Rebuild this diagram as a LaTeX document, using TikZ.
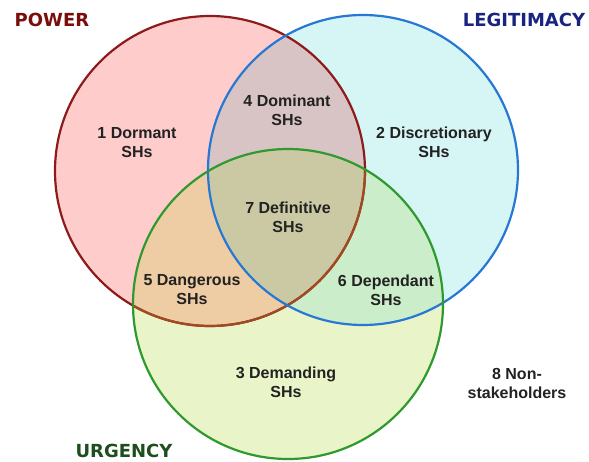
\documentclass[tikz,border=0pt]{standalone}
\usepackage{fontspec}
\setmainfont{Liberation Sans}
\newfontfamily\titlefont{DejaVu Sans}
% circle fills and overlap tints
\definecolor{powfill}{HTML}{FFCCCC}
\definecolor{legfill}{HTML}{D6F5F5}
\definecolor{urgfill}{HTML}{E9F5C9}
\definecolor{plfill}{HTML}{D8C4C4}
\definecolor{pufill}{HTML}{EECDA4}
\definecolor{lufill}{HTML}{CBEDC9}
\definecolor{allfill}{HTML}{CBC9A3}
% outlines and titles
\definecolor{powline}{HTML}{8E1B1B}
\definecolor{powline2}{HTML}{A04A22}
\definecolor{legline}{HTML}{2678D4}
\definecolor{urgline}{HTML}{2E9A2E}
\definecolor{powtitle}{HTML}{7B0D0D}
\definecolor{legtitle}{HTML}{1A2380}
\definecolor{urgtitle}{HTML}{1E4D1E}
\definecolor{labeltext}{HTML}{222222}
\begin{document}
\begin{tikzpicture}[x=1pt,y=-1pt,
  region/.style={font=\bfseries\fontsize{16}{19}\selectfont, text=labeltext, align=center, inner sep=0pt},
  title/.style={font=\titlefont\bfseries\fontsize{18}{20}\selectfont, inner sep=0pt},
  rim/.style={line width=2.2pt}]
\useasboundingbox (0,0) rectangle (589,461);
\coordinate (P) at (210,171);
\coordinate (L) at (363,170);
\coordinate (U) at (288,304);
\def\R{155pt}
% base discs
\fill[powfill] (P) circle[radius=\R];
\fill[legfill] (L) circle[radius=\R];
\fill[urgfill] (U) circle[radius=\R];
% pairwise and triple overlaps
\begin{scope}
  \clip (L) circle[radius=\R];
  \fill[lufill] (U) circle[radius=\R];
\end{scope}
\begin{scope}
  \clip (P) circle[radius=\R];
  \fill[plfill] (L) circle[radius=\R];
  \fill[pufill] (U) circle[radius=\R];
  \clip (L) circle[radius=\R];
  \fill[allfill] (U) circle[radius=\R];
\end{scope}
% outlines
\draw[rim, powline] (P) circle[radius=\R];
\begin{scope}
  \clip (U) circle[radius=\R];
  \draw[rim, powline2] (P) circle[radius=\R];
\end{scope}
\draw[rim, legline] (L) circle[radius=\R];
\draw[rim, urgline] (U) circle[radius=\R];
% titles
\node[title, text=powtitle] (tpow) at (52,20) {POWER};
\node[title, text=legtitle] (tleg) at (524,20) {LEGITIMACY};
\node[title, text=urgtitle] (turg) at (124,450.5) {URGENCY};
% region labels
\node[region] (r1) at (137,142.5) {1 Dormant\\SHs};
\node[region] (r4) at (287,110) {4 Dominant\\SHs};
\node[region] (r2) at (434,142.5) {2 Discretionary\\SHs};
\node[region] (r7) at (288,217.5) {7 Definitive\\SHs};
\node[region] (r5) at (192,289.5) {5 Dangerous\\SHs};
\node[region] (r6) at (386,290) {6 Dependant\\SHs};
\node[region] (r3) at (286,382.5) {3 Demanding\\SHs};
\node[region] (r8) at (517,383.5) {8 Non-\\stakeholders};
\end{tikzpicture}
\end{document}
